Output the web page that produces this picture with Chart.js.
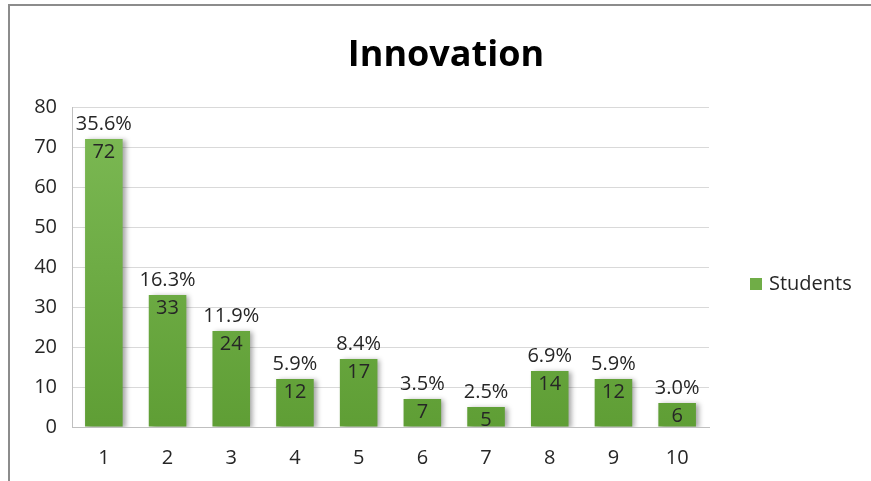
<!DOCTYPE html>
<html>
<head>
<meta charset="utf-8">
<script src="https://cdn.jsdelivr.net/npm/chart.js@4.4.1/dist/chart.umd.min.js"></script>
<style>
  body { margin: 0; background: #fff; }
  canvas { display: block; }
</style>
</head>
<body>
<canvas id="chart" width="871" height="481"></canvas>
<script>
const categories = ["1", "2", "3", "4", "5", "6", "7", "8", "9", "10"];
const students = [72, 33, 24, 12, 17, 7, 5, 14, 12, 6];
const percentLabels = ["35.6%", "16.3%", "11.9%", "5.9%", "8.4%", "3.5%", "2.5%", "6.9%", "5.9%", "3.0%"];
const yTicks = [0, 10, 20, 30, 40, 50, 60, 70, 80];

const fontFamily = "'Open Sans', 'Noto Sans', sans-serif";
const textColor = "#262626";

// frame, title and legend drawn by hand, Excel style
const decorPlugin = {
  id: "decor",
  beforeDraw(chart) {
    const ctx = chart.ctx;
    ctx.save();
    ctx.fillStyle = "#fff";
    ctx.fillRect(0, 0, chart.width, chart.height);
    ctx.strokeStyle = "#8c8c8c";
    ctx.lineWidth = 2;
    ctx.beginPath();
    ctx.moveTo(9, chart.height);
    ctx.lineTo(9, 5);
    ctx.lineTo(chart.width, 5);
    ctx.stroke();

    ctx.fillStyle = "#000";
    ctx.font = "bold 36px " + fontFamily;
    ctx.textAlign = "center";
    ctx.textBaseline = "alphabetic";
    ctx.fillText("Innovation", 446, 66);

    ctx.fillStyle = "#70ad47";
    ctx.fillRect(750, 278, 12, 12);
    ctx.fillStyle = textColor;
    ctx.font = "20px " + fontFamily;
    ctx.textAlign = "left";
    ctx.textBaseline = "middle";
    ctx.fillText("Students", 769, 284);
    ctx.restore();
  }
};

const shadowPlugin = {
  id: "barShadow",
  beforeDatasetsDraw(chart) {
    const ctx = chart.ctx;
    ctx.save();
    ctx.shadowColor = "rgba(0,0,0,0.35)";
    ctx.shadowBlur = 5;
    ctx.shadowOffsetX = 3;
    ctx.shadowOffsetY = 1;
  },
  afterDatasetsDraw(chart) {
    chart.ctx.restore();
  }
};

const labelPlugin = {
  id: "barLabels",
  afterDatasetsDraw(chart) {
    const ctx = chart.ctx;
    const meta = chart.getDatasetMeta(0);
    ctx.save();
    ctx.font = "20px " + fontFamily;
    ctx.fillStyle = textColor;
    ctx.textAlign = "center";
    ctx.textBaseline = "middle";
    meta.data.forEach(function(bar, i) {
      ctx.fillText(String(students[i]), bar.x, bar.y + 13);
      ctx.fillText(percentLabels[i], bar.x, bar.y - 15);
    });
    ctx.restore();
  }
};

const chart = new Chart(document.getElementById("chart"), {
  type: "bar",
  plugins: [decorPlugin, shadowPlugin, labelPlugin],
  data: {
    labels: categories,
    datasets: [{
      label: "Students",
      data: students,
      backgroundColor: function(context) {
        const area = context.chart.chartArea;
        if (!area) return "#70ad47";
        const g = context.chart.ctx.createLinearGradient(0, area.top, 0, area.bottom);
        g.addColorStop(0, "#7dba55");
        g.addColorStop(1, "#5f9e35");
        return g;
      },
      borderWidth: 0,
      categoryPercentage: 1,
      barPercentage: 0.59
    }]
  },
  options: {
    responsive: false,
    animation: false,
    layout: { padding: { top: 107, right: 162, bottom: 0, left: 0 } },
    plugins: {
      legend: { display: false },
      title: { display: false },
      tooltip: { enabled: false }
    },
    scales: {
      x: {
        grid: { display: false, drawTicks: false },
        border: { color: "#bfbfbf", width: 1 },
        ticks: { color: textColor, font: { family: fontFamily, size: 20 }, padding: 19 },
        afterFit: function(scale) { scale.height = 54; }
      },
      y: {
        min: 0,
        max: 80,
        afterBuildTicks: function(scale) {
          scale.ticks = yTicks.map(function(v) { return { value: v }; });
        },
        grid: { color: "#d9d9d9", drawTicks: false },
        border: { color: "#bfbfbf", width: 1 },
        ticks: { color: textColor, font: { family: fontFamily, size: 20 }, padding: 15 },
        afterFit: function(scale) { scale.width = 72; }
      }
    }
  }
});
</script>
</body>
</html>
